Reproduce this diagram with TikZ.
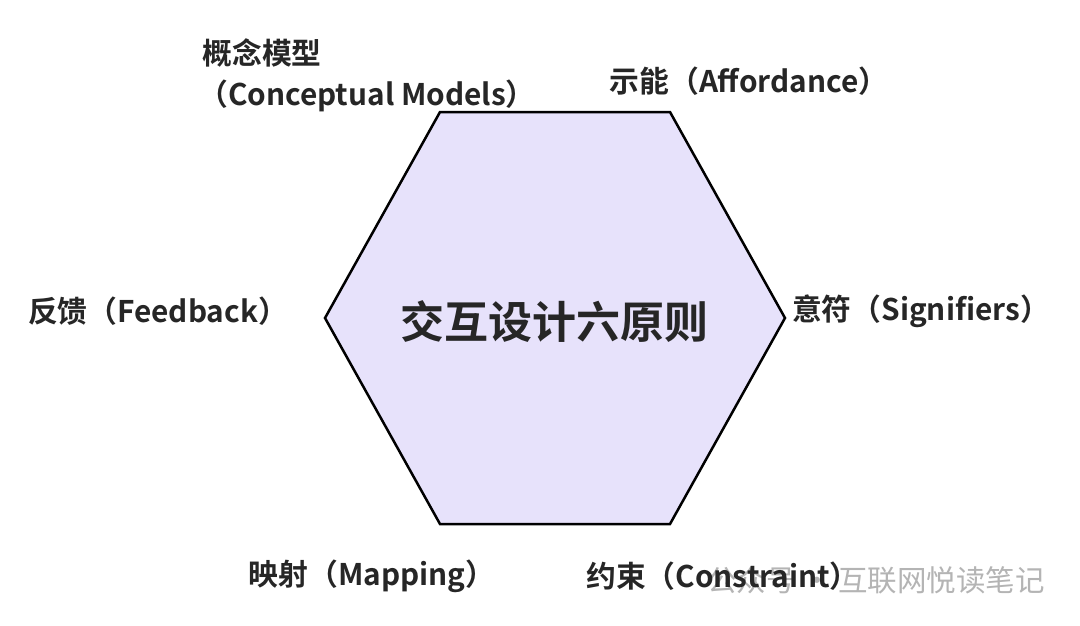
\documentclass[tikz,border=0pt]{standalone}
\usepackage{fontspec}
\setmainfont{Noto Sans CJK SC}[BoldFont={* Bold}]
\newfontfamily\cjkb{Noto Sans CJK SC Bold}
\newfontfamily\cjkr{Noto Sans CJK SC}
\definecolor{hexfill}{HTML}{E7E2FB}
\definecolor{txt}{HTML}{262626}
\definecolor{wm}{HTML}{B4B4B4}
\tikzset{
  lbl/.style={font=\cjkb\fontsize{29.8}{34}\selectfont, text=txt, inner sep=0pt, anchor=center},
  ttl/.style={font=\cjkb\fontsize{44}{50}\selectfont, text=txt, inner sep=0pt},
  hexline/.style={draw=black, line width=2.5pt, fill=hexfill, line join=miter}
}
\begin{document}
\begin{tikzpicture}[x=1pt,y=-1pt]
\useasboundingbox (0,0) rectangle (1080,625);
\fill[white] (0,0) rectangle (1080,625);
\coordinate (h1) at (440,112);
\coordinate (h2) at (670,112);
\coordinate (h3) at (785,318);
\coordinate (h4) at (670,524);
\coordinate (h5) at (440,524);
\coordinate (h6) at (325,318);
\draw[hexline] (h1) -- (h2) -- (h3) -- (h4) -- (h5) -- (h6) -- cycle;
\node[ttl] (title) at (554,322) {交互设计六原则};
\node[lbl] (cm1) at (262,53) {概念模型};
\node[lbl] (cm2) at (367,96) {（Conceptual Models）};
\node[lbl] (aff) at (749,81) {示能（Affordance）};
\node[lbl] (fb) at (158,311) {反馈（Feedback）};
\node[lbl] (sig) at (921,311) {意符（Signifiers）};
\node[lbl] (map) at (372,576) {映射（Mapping）};
\node[font=\cjkr\fontsize{29.5}{34}\selectfont, text=wm, inner sep=0pt, anchor=west] (wmk) at (707,580) {公众号 · 互联网悦读笔记};
\node[lbl] (con) at (723,576) {约束（Constraint）};
\end{tikzpicture}
\end{document}
